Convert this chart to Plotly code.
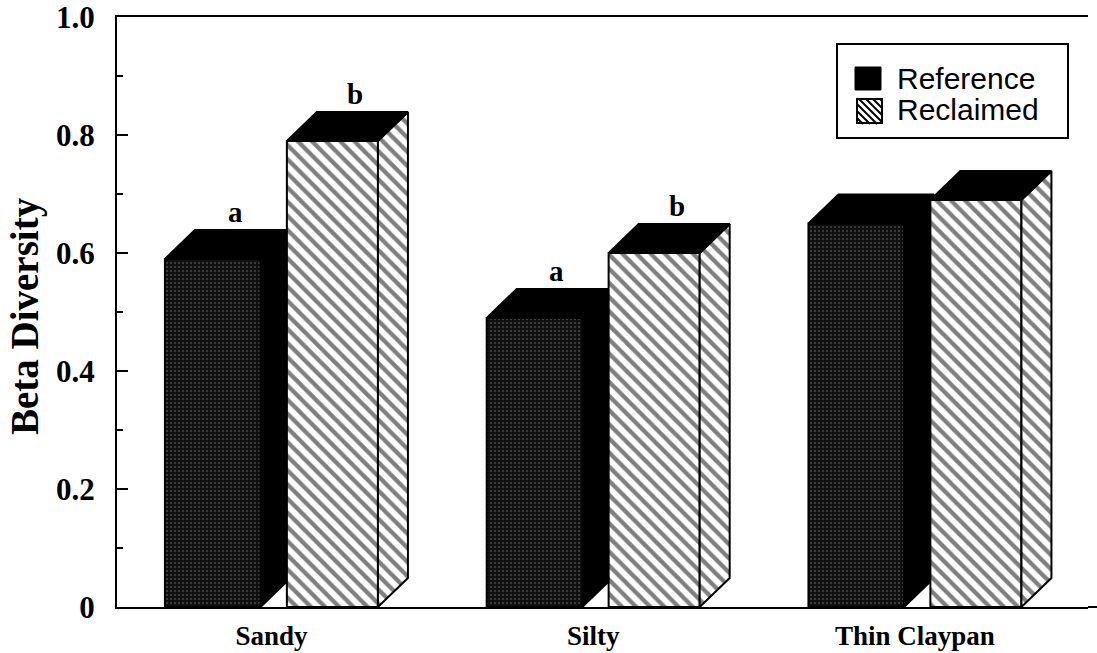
import plotly.graph_objects as go

# ---- data ----
categories = ["Sandy", "Silty", "Thin Claypan"]
series_names = ["Reference", "Reclaimed"]
reference = [0.59, 0.49, 0.65]
reclaimed = [0.79, 0.60, 0.69]
letters_reference = ["a", "a", ""]
letters_reclaimed = ["b", "b", ""]
y_tick_vals = [0, 0.2, 0.4, 0.6, 0.8, 1.0]
y_tick_text = ["0", "0.2", "0.4", "0.6", "0.8", "1.0"]

# ---- geometry (in axis units) ----
REF_SPAN = (-0.331, -0.034)
REC_SPAN = (0.048, 0.331)
DX = 0.0932
DY = 0.049

W, H = 1097, 653
ML, MR, MT, MB = 117, 9, 17, 46
PW = W - ML - MR
PH = H - MT - MB

SERIF = "Liberation Serif"
SANS = "Liberation Sans"

STIPPLE = dict(shape=".", bgcolor="#101010", fgcolor="#858585", size=4, solidity=0.2)
HATCH = dict(shape="\\", bgcolor="white", fgcolor="black", size=10, solidity=0.42)

fig = go.Figure()


def poly(xs, ys, fillcolor=None, pattern=None):
    kw = dict(x=xs, y=ys, mode="lines", fill="toself",
              line=dict(color="black", width=2), showlegend=False,
              hoverinfo="skip")
    if pattern is not None:
        kw["fillpattern"] = pattern
        kw["fillcolor"] = pattern["bgcolor"]
    else:
        kw["fillcolor"] = fillcolor
    fig.add_trace(go.Scatter(**kw))


def front(x0, x1, v):
    return [x0, x1, x1, x0, x0], [0, 0, v, v, 0]


def top(x0, x1, v):
    return [x0, x1, x1 + DX, x0 + DX, x0], [v, v, v + DY, v + DY, v]


def side(x1, v):
    return [x1, x1 + DX, x1 + DX, x1, x1], [0, DY, v + DY, v, 0]


annotations = []
for i, cat in enumerate(categories):
    v1, v2 = reference[i], reclaimed[i]
    a0, a1 = i + REF_SPAN[0], i + REF_SPAN[1]
    b0, b1 = i + REC_SPAN[0], i + REC_SPAN[1]
    # reference bar
    poly(*top(a0, a1, v1), fillcolor="black")
    poly(*side(a1, v1), fillcolor="black")
    poly(*front(a0, a1, v1), pattern=STIPPLE)
    # reclaimed bar
    poly(*front(b0, b1, v2), pattern=HATCH)
    poly(*side(b1, v2), pattern=HATCH)
    poly(*top(b0, b1, v2), fillcolor="black")
    for (x0, x1, v, lab) in [(a0, a1, v1, letters_reference[i]),
                             (b0, b1, v2, letters_reclaimed[i])]:
        if lab:
            annotations.append(dict(
                x=(x0 + x1) / 2 + DX * 0.75, y=v + DY, xref="x", yref="y",
                text=lab, showarrow=False, yanchor="bottom", yshift=0,
                font=dict(family=SERIF, size=29, color="black", weight="bold")))


def px_x(p):
    return (p - ML) / PW


def px_y(p):
    return (H - MB - p) / PH


# y-axis title
annotations.append(dict(
    x=px_x(25), y=px_y(316), xref="paper", yref="paper", text="Beta Diversity",
    textangle=-90, showarrow=False, xanchor="center", yanchor="middle",
    font=dict(family=SERIF, size=39, color="black", weight="bold")))

# legend (drawn manually)
shapes = []
shapes.append(dict(type="rect", xref="paper", yref="paper",
                   x0=px_x(837), x1=px_x(1068), y0=px_y(138), y1=px_y(44),
                   line=dict(color="black", width=2), fillcolor="white", layer="above"))
shapes.append(dict(type="rect", xref="paper", yref="paper",
                   x0=px_x(855), x1=px_x(881), y0=px_y(90), y1=px_y(67),
                   line=dict(color="black", width=1), fillcolor="black", layer="above"))
sq = (857, 99, 882, 123)
shapes.append(dict(type="rect", xref="paper", yref="paper",
                   x0=px_x(sq[0]), x1=px_x(sq[2]), y0=px_y(sq[3]), y1=px_y(sq[1]),
                   line=dict(color="black", width=2), fillcolor="white", layer="above"))
side_len = sq[2] - sq[0]
for c in range(-side_len + 6, side_len, 7):
    t0 = max(0, c)
    t1 = min(side_len, side_len + c)
    if t1 - t0 < 2:
        continue
    shapes.append(dict(type="line", xref="paper", yref="paper",
                       x0=px_x(sq[0] + t0), y0=px_y(sq[1] + t0 - c),
                       x1=px_x(sq[0] + t1), y1=px_y(sq[1] + t1 - c),
                       line=dict(color="black", width=2), layer="above"))
for name, yc in zip(series_names, [78, 110]):
    annotations.append(dict(
        x=px_x(895), y=px_y(yc), xref="paper", yref="paper", text=name,
        showarrow=False, xanchor="left", yanchor="middle",
        font=dict(family=SANS, size=30, color="black")))

# bottom axis line extension to the page edge
shapes.append(dict(type="line", xref="paper", yref="paper",
                   x0=1, x1=px_x(W), y0=0, y1=0,
                   line=dict(color="black", width=2)))

x_lo = -0.480
x_hi = x_lo + PW / 321.75

fig.update_layout(
    width=W, height=H,
    margin=dict(l=ML, r=MR, t=MT, b=MB, autoexpand=False),
    paper_bgcolor="white", plot_bgcolor="white",
    showlegend=False,
    annotations=annotations,
    shapes=shapes,
    xaxis=dict(range=[x_lo, x_hi], tickmode="array", automargin=False,
               tickvals=list(range(len(categories))), ticktext=categories,
               showgrid=False, zeroline=False, showline=True, mirror=True,
               linecolor="black", linewidth=2, ticks="", ticklabelstandoff=4,
               ticklabeloverflow="allow",
               tickfont=dict(family=SERIF, size=27, color="black", weight="bold")),
    yaxis=dict(range=[0, 1.0], tickmode="array", tickvals=y_tick_vals, automargin=False,
               ticktext=y_tick_text, showgrid=False, zeroline=False,
               showline=True, mirror=False, linecolor="black", linewidth=2,
               ticks="inside", ticklen=11, tickwidth=2, tickcolor="black",
               minor=dict(dtick=0.1, ticks="inside", ticklen=6, tickwidth=2,
                          tickcolor="black", showgrid=False),
               ticklabelstandoff=14, ticklabeloverflow="allow",
               tickfont=dict(family=SERIF, size=31, color="black", weight="bold")),
)

fig.write_html("out.html",
               config={"displayModeBar": False},
               post_script="document.body.style.margin='0';"
                           "document.body.style.overflow='hidden';")
